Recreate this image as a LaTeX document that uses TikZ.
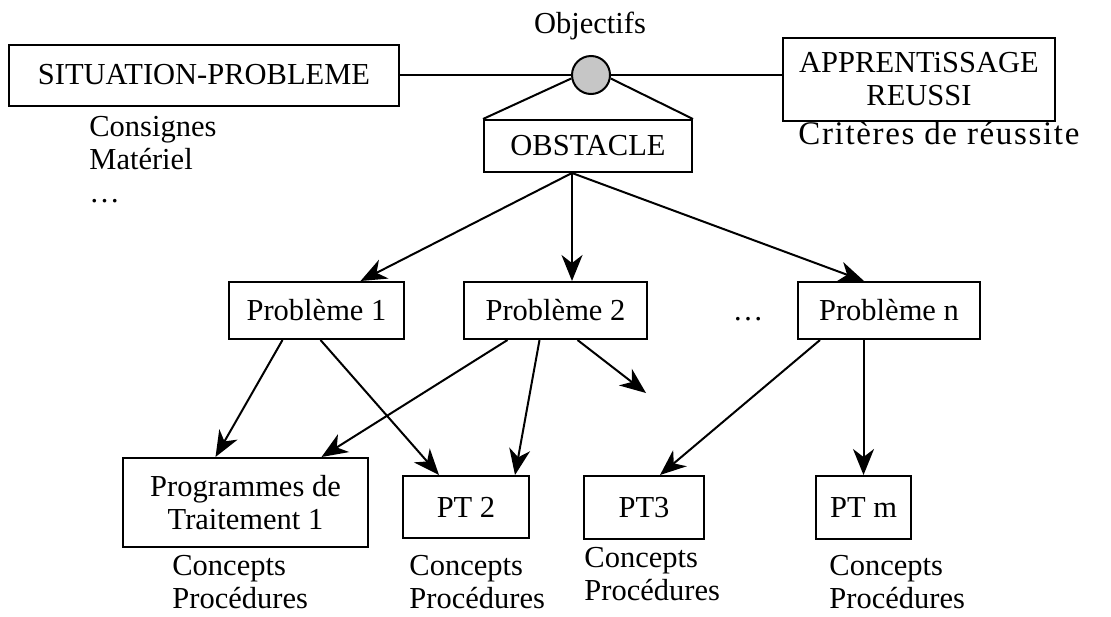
\documentclass[tikz,border=0pt]{standalone}
\usepackage{fontspec}
\setmainfont{Liberation Serif}
\usetikzlibrary{arrows.meta}

\begin{document}
\begin{tikzpicture}[x=0.5pt,y=-0.5pt,
		font=\fontsize{15.25}{16.5}\selectfont,
		rect/.style={draw,line width=1pt,inner sep=0pt,align=center},
		note/.style={inner sep=0pt,align=left,anchor=north west},
		arr/.style={-{Stealth[length=13pt,width=10.5pt,inset=4pt]},line width=1pt}]
		\useasboundingbox (0,0) rectangle (1111,616);
		% haut du schema
		\node[rect,minimum width=195pt,minimum height=30.5pt] (sit) at (204,75) {SITUATION-PROBLEME};
		\node[draw,circle,line width=1pt,fill=gray!45,minimum size=19pt,inner sep=0pt] (circ) at (591,75) {};
		\node[anchor=base] (obj) at (590,33) {Objectifs};
		\node[rect,minimum width=136pt,minimum height=41.5pt] (app) at (919,79.5) {APPRENTiSSAGE\\REUSSI};
		\node[anchor=base west,inner sep=0pt] (crit) at (798,144) {\fontsize{16.5}{18}\selectfont\addfontfeature{LetterSpace=5}Critères de réussite};
		\node[rect,minimum width=104pt,minimum height=26pt] (obst) at (588,146) {OBSTACLE};
		\node[note] (cons) at (89,116) {Consignes\\Matériel\\…};
		\draw[line width=1pt] (sit.east) -- (circ.west);
		\draw[line width=1pt] (circ.east) -- (circ.east -| app.west);
		\draw[line width=1pt] (circ.190) -- (obst.north west);
		\draw[line width=1pt] (circ.-10) -- (obst.north east);
		% problemes
		\node[rect,minimum width=87.5pt,minimum height=28.5pt] (p1) at (316.5,310.5) {Problème 1};
		\node[rect,minimum width=91.5pt,minimum height=28.5pt] (p2) at (555.5,310.5) {Problème 2};
		\node[anchor=base] (dots) at (748,320) {…};
		\node[rect,minimum width=91pt,minimum height=28.5pt] (pn) at (889,310.5) {Problème n};
		\coordinate (fork) at ([xshift=-8pt]obst.south);
		\draw[arr] (fork) -- ([xshift=22pt]p1.north);
		\draw[arr] (fork) -- (fork |- p2.north);
		\draw[arr] (fork) -- ([xshift=-12.5pt]pn.north);
		% programmes de traitement
		\node[rect,minimum width=122.5pt,minimum height=44.5pt] (prog) at (245.5,502.5) {Programmes de\\Traitement 1};
		\node[rect,minimum width=63pt,minimum height=31pt] (pt2) at (466,507) {PT 2};
		\node[rect,minimum width=60pt,minimum height=31.5pt] (pt3) at (644,507.5) {PT3};
		\node[rect,minimum width=47.5pt,minimum height=31.5pt] (ptm) at (863.5,507.5) {PT m};
		\coordinate (open) at (646,393);
		\draw[arr] ([xshift=-17pt]p1.south) -- ([xshift=-15pt]prog.north);
		\draw[arr] ([xshift=2pt]p1.south) -- ([xshift=-13.5pt]pt2.north);
		\draw[arr] ([xshift=-24pt]p2.south) -- ([xshift=38pt]prog.north);
		\draw[arr] ([xshift=-8pt]p2.south) -- ([xshift=24.5pt]pt2.north);
		\draw[arr] ([xshift=11pt]p2.south) -- (open);
		\draw[arr] ([xshift=-34.5pt]pn.south) -- ([xshift=8pt]pt3.north);
		\draw[arr] (pn.south -| ptm.north) -- (ptm.north);
		% legendes
		\node[note] (c1) at (172,555) {Concepts\\Procédures};
		\node[note] (c2) at (409,555) {Concepts\\Procédures};
		\node[note] (c3) at (584,547) {Concepts\\Procédures};
		\node[note] (c4) at (829,555) {Concepts\\Procédures};
	\end{tikzpicture}
\end{document}
